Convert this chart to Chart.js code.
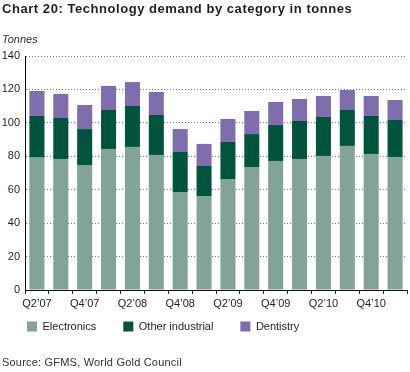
<!DOCTYPE html>
<html>
<head>
<meta charset="utf-8">
<script src="https://cdn.jsdelivr.net/npm/chart.js@4.4.0/dist/chart.umd.min.js"></script>
<style>
  body { margin: 0; background: #fff; }
  #wrap { position: relative; width: 410px; height: 372px; font-family: "Liberation Sans", Arial, sans-serif; color: #1e1e2a; }
  #chart { position: absolute; left: 0; top: 0; }
  .txt { position: absolute; left: 2px; white-space: nowrap; }
  #title { top: 1px; font-size: 13px; font-weight: bold; line-height: 16px; letter-spacing: 0.55px; }
  #unit { top: 32px; font-size: 11px; font-style: italic; line-height: 14px; color: #333; }
  #source { top: 355px; font-size: 11px; line-height: 14px; color: #333; letter-spacing: 0.2px; }
</style>
</head>
<body>
<div id="wrap">
  <canvas id="chart" width="410" height="372"></canvas>
  <div class="txt" id="title">Chart 20: Technology demand by category in tonnes</div>
  <div class="txt" id="unit">Tonnes</div>
  <div class="txt" id="source">Source: GFMS, World Gold Council</div>
</div>
<script>
const quarters = ["Q2’07", "Q3’07", "Q4’07", "Q1’08", "Q2’08", "Q3’08", "Q4’08", "Q1’09",
                  "Q2’09", "Q3’09", "Q4’09", "Q1’10", "Q2’10", "Q3’10", "Q4’10", "Q1’11"];
const electronics = [79.2, 78.4, 74.8, 84.4, 85.6, 80.8, 58.6, 56.2, 66.4, 73.6, 77.2, 78.4, 80.2, 86.2, 81.4, 79.6];
const otherIndustrial = [24.9, 24.5, 21.5, 23.3, 24.5, 23.9, 24.0, 18.0, 22.2, 19.7, 21.5, 22.7, 23.3, 21.5, 22.7, 22.1];
const dentistry = [15.0, 14.4, 14.4, 14.4, 14.3, 13.8, 13.7, 13.2, 13.7, 13.8, 13.8, 13.2, 12.6, 12.0, 12.0, 12.0];
const yTicks = [0, 20, 40, 60, 80, 100, 120, 140];

const font = { family: '"Liberation Sans", Arial, sans-serif', size: 11 };

// legend sits closer to the axis labels than its horizontal padding would allow
const liftLegend = {
    id: 'liftLegend',
    afterLayout(chart) {
        chart.legend.top -= 16;
        chart.legend.bottom -= 16;
    },
};

new Chart(document.getElementById('chart'), {
    type: 'bar',
    data: {
        labels: quarters,
        datasets: [
            { label: 'Electronics', data: electronics, backgroundColor: '#82a397' },
            { label: 'Other industrial', data: otherIndustrial, backgroundColor: '#00543d' },
            { label: 'Dentistry', data: dentistry, backgroundColor: '#806dae' },
        ],
    },
    plugins: [liftLegend],
    options: {
        responsive: false,
        animation: false,
        devicePixelRatio: 1,
        layout: { padding: { left: 0, right: 3, top: 56, bottom: 14 } },
        datasets: { bar: { categoryPercentage: 1, barPercentage: 0.63, borderWidth: 0 } },
        plugins: {
            tooltip: { enabled: false },
            legend: {
                position: 'bottom',
                align: 'start',
                labels: { boxWidth: 10, boxHeight: 10, padding: 27, font, color: '#1e1e2a' },
            },
        },
        scales: {
            x: {
                stacked: true,
                grid: { offset: true, drawOnChartArea: false, drawTicks: true, tickLength: 4, color: '#222' },
                border: { color: '#111', width: 1 },
                ticks: {
                    autoSkip: false, maxRotation: 0, padding: 3, font, color: '#1e1e2a',
                    callback: (v, i) => (i % 2 === 0 ? quarters[i] : ''),
                },
                afterFit: s => { s.height = 20; },
            },
            y: {
                stacked: true,
                min: 0,
                max: 140,
                afterBuildTicks: s => { s.ticks = yTicks.map(v => ({ value: v })); },
                grid: { drawTicks: false, color: '#7a7a7a' },
                border: { color: '#111', width: 1, dash: [1, 2] },
                ticks: { padding: 5, font, color: '#1e1e2a' },
                afterFit: s => { s.width = 25; },
            },
        },
    },
});
</script>
</body>
</html>
